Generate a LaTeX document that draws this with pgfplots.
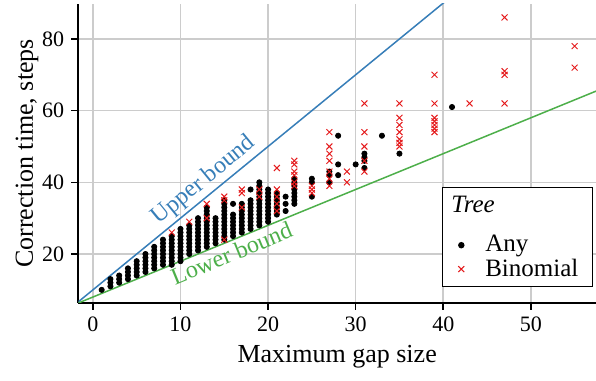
\documentclass[border=0pt]{standalone}
\usepackage{fontspec}
\setmainfont{Liberation Serif}
\usepackage{pgfplots}
\pgfplotsset{compat=1.18}
\pgfplotsset{legend image code/.code={\draw[mark repeat=2,mark phase=2,#1] plot coordinates {(0pt,0pt) (4.5pt,0pt) (9pt,0pt)};}}
\definecolor{setred}{HTML}{E41A1C}
\definecolor{setblue}{HTML}{377EB8}
\definecolor{setgreen}{HTML}{4DAF4A}
\begin{document}
\begin{tikzpicture}
\begin{axis}[
  scale only axis, width=258.9pt, height=149.5pt,
  xmin=-1.67, xmax=57.44, ymin=6.35, ymax=89.75,
  axis lines=left, axis line style={-, line width=0.9pt},
  xtick={0,10,...,50}, ytick={20,40,60,80},
  tick align=outside, major tick length=3.5pt,
  tick style={black, line width=0.8pt},
  grid=major, grid style={black!20, line width=0.8pt},
  ticklabel style={font=\fontsize{11}{13}\selectfont},
  /pgf/number format/assume math mode=true,
  xlabel={Maximum gap size}, ylabel={Correction time, steps},
  label style={font=\fontsize{13}{15}\selectfont},
  ylabel shift=-5pt,
  legend style={at={(0.702,0.389)}, anchor=north west, draw=black, line width=0.6pt,
    font=\fontsize{12.5}{14}\selectfont, inner xsep=5pt, inner ysep=2.5pt,
    nodes={inner xsep=2pt, inner ysep=1.0pt},
    cells={anchor=west}, column sep=8.5pt},
]
\coordinate (SW) at (rel axis cs:0,0);
\coordinate (NE) at (rel axis cs:1,1);
\addplot[setblue, line width=0.75pt, forget plot] coordinates {(-2,6) (45,100)};
\addplot[setgreen, line width=0.75pt, forget plot] coordinates {(-2,6) (60,68)};
\node[setblue, rotate=39.35, anchor=south, inner sep=1.5pt, font=\fontsize{12}{14}\selectfont] at (axis cs:13.7,37.4) {Upper bound};
\node[setgreen, rotate=22.29, anchor=north, inner sep=1.5pt, font=\fontsize{12}{14}\selectfont] at (axis cs:15.3,23.3) {Lower bound};
\addlegendimage{empty legend}
\addlegendentry[text depth=9.5pt]{\hspace*{-17pt}\textit{Tree}\rule{0pt}{9.1pt}}
\addplot[only marks, mark=*, mark size=1.3pt, black]
coordinates {
(1,10)
(2,11)(2,12)(2,13)
(3,12)(3,13)(3,14)
(4,13)(4,14)(4,15)(4,16)
(5,14)(5,15)(5,16)(5,17)(5,18)
(6,15)(6,16)(6,17)(6,18)(6,19)(6,20)
(7,16)(7,17)(7,18)(7,19)(7,20)(7,21)(7,22)
(8,17)(8,18)(8,19)(8,20)(8,21)(8,22)(8,23)(8,24)
(9,17)(9,18)(9,19)(9,20)(9,21)(9,22)(9,23)(9,24)(9,25)
(10,18)(10,19)(10,20)(10,21)(10,22)(10,23)(10,24)(10,25)(10,26)(10,27)
(11,20)(11,21)(11,22)(11,23)(11,24)(11,25)(11,26)(11,27)(11,28)
(12,21)(12,22)(12,23)(12,24)(12,25)(12,26)(12,27)(12,28)(12,29)(12,30)
(13,22)(13,23)(13,24)(13,25)(13,26)(13,27)(13,28)(13,29)(13,30)(13,31)(13,32)(13,33)
(14,23)(14,24)(14,25)(14,26)(14,27)(14,28)(14,29)(14,30)
(15,24)(15,25)(15,26)(15,27)(15,28)(15,29)(15,30)(15,31)(15,32)(15,33)(15,34)(15,35)
(16,25)(16,26)(16,27)(16,28)(16,29)(16,30)(16,31)(16,34)
(17,26)(17,27)(17,28)(17,29)(17,30)(17,31)(17,32)(17,33)(17,34)
(18,27)(18,28)(18,29)(18,30)(18,31)(18,32)(18,33)(18,34)(18,35)(18,38)
(19,28)(19,29)(19,30)(19,31)(19,32)(19,33)(19,34)(19,35)(19,36)(19,37)(19,38)(19,39)(19,40)
(20,29)(20,30)(20,31)(20,32)(20,33)(20,34)(20,35)(20,36)(20,37)(20,38)
(21,31)(21,32)(21,33)(21,34)(21,35)(21,36)(21,37)
(22,32)(22,34)(22,36)
(23,34)(23,35)(23,36)(23,37)(23,38)(23,39)(23,40)(23,41)
(25,36)(25,40)(25,41)
(27,40)(27,42)(27,43)
(28,42)(28,45)(28,53)
(30,45)
(31,44)(31,46)(31,47)(31,48)
(33,53)
(35,48)
(41,61)
};
\addlegendentry{Any}
\addplot[only marks, mark=x, mark size=2.1pt, setred, line width=0.5pt]
coordinates {
(9,26)(11,29)(13,30)(13,34)(15,24)(15,35)(15,36)(17,33)(17,37)(17,38)
(19,36)(19,38)(21,32)(21,34)(21,36)(21,38)(21,44)
(23,39)(23,40)(23,42)(23,43)(23,45)(23,46)(25,37)(25,38)(25,39)
(27,39)(27,41)(27,43)(27,46)(27,48)(27,50)(27,54)(29,40)(29,43)
(31,43)(31,46)(31,50)(31,54)(31,62)
(35,50)(35,51)(35,52)(35,54)(35,56)(35,58)(35,62)
(39,54)(39,55)(39,56)(39,57)(39,58)(39,62)(39,70)
(43,62)(47,62)(47,70)(47,71)(47,86)(55,72)(55,78)
};
\addlegendentry{Binomial}
\end{axis}
\pgfresetboundingbox
\path ([xshift=-39.15pt,yshift=-39pt]SW) rectangle ([yshift=2pt]NE);
\end{tikzpicture}
\end{document}
